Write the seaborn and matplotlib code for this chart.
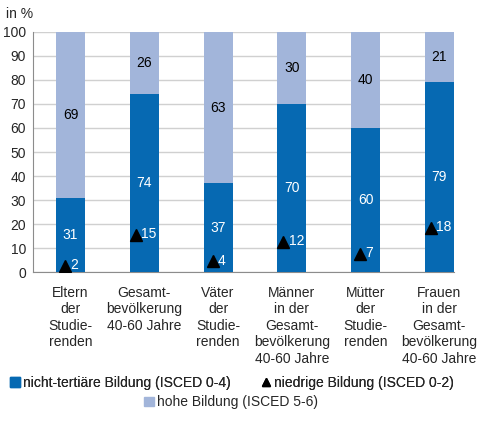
import pandas as pd
import matplotlib.pyplot as plt
import seaborn as sns
from matplotlib.lines import Line2D
from matplotlib.patches import Patch

# data
categories = ["Eltern\nder\nStudie-\nrenden",
              "Gesamt-\nbevölkerung\n40-60 Jahre",
              "Väter\nder\nStudie-\nrenden",
              "Männer\nin der\nGesamt-\nbevölkerung\n40-60 Jahre",
              "Mütter\nder\nStudie-\nrenden",
              "Frauen\nin der\nGesamt-\nbevölkerung\n40-60 Jahre"]
nicht_tertiaer = [31, 74, 37, 70, 60, 79]
hohe = [69, 26, 63, 30, 40, 21]
niedrige = [2, 15, 4, 12, 7, 18]

dark = "#0669b2"
light = "#a2b5da"

sns.set_style("white")
plt.rcParams['font.family'] = ['Liberation Sans', 'DejaVu Sans']
plt.rcParams['font.size'] = 10

df = pd.DataFrame({"cat": categories, "low": nicht_tertiaer, "high": hohe, "niedrig": niedrige})
df["total"] = df["low"] + df["high"]

fig = plt.figure(figsize=(4.85, 4.30), dpi=100)
ax = fig.add_axes([0.068, 0.367, 0.868, 0.559])

sns.barplot(data=df, x="cat", y="total", color=light, width=0.393, saturation=1, ax=ax,
            zorder=2, linewidth=0, edgecolor="none")
sns.barplot(data=df, x="cat", y="low", color=dark, width=0.393, saturation=1, ax=ax,
            zorder=3, linewidth=0, edgecolor="none")

for i, row in df.iterrows():
    ax.text(i, row["low"] + row["high"] / 2, str(row["high"]), ha="center", va="center",
            color="black", fontsize=10, zorder=5)
    ax.text(i, row["low"] / 2, str(row["low"]), ha="center", va="center",
            color="white", fontsize=10, zorder=5)
    if row["niedrig"] < 10:
        tri_x, txt_x = i - 0.075, i + 0.0
    else:
        tri_x, txt_x = i - 0.115, i - 0.04
    ax.plot(tri_x, row["niedrig"] + 0.5, marker="^", color="black", markersize=8,
            linestyle="none", zorder=6)
    ax.text(txt_x, row["niedrig"] + 0.8, str(row["niedrig"]), ha="left", va="center",
            color="white", fontsize=10, zorder=6)

ax.set_ylim(0, 100)
ax.set_xlim(-0.508, 5.197)
ax.set_yticks(range(0, 101, 10))
ax.yaxis.grid(True, color="#d0d0d0", linewidth=1, zorder=0)
ax.set_axisbelow(True)
ax.set_xlabel("")
ax.set_ylabel("")
for s in ["top", "right"]:
    ax.spines[s].set_visible(False)
for s in ["left", "bottom"]:
    ax.spines[s].set_color("#8c8c8c")
ax.tick_params(axis="y", length=0, pad=5, labelsize=10)
ax.tick_params(axis="x", length=0, pad=10, labelsize=10)
for lab in ax.get_xticklabels():
    lab.set_multialignment("center")
    lab.set_linespacing(1.22)

fig.text(0.012, 0.968, "in %", fontsize=10, ha="left", va="center")

h1 = [Patch(color=dark, label="nicht-tertiäre Bildung (ISCED 0-4)"),
      Line2D([], [], marker="^", color="black", linestyle="none", markersize=6,
             label="niedrige Bildung (ISCED 0-2)")]
leg1 = fig.legend(handles=h1, loc="center", bbox_to_anchor=(0.478, 0.109), ncol=2, frameon=False,
                  fontsize=10, handlelength=0.7, handleheight=0.7, handletextpad=0.2,
                  columnspacing=2.2)
h2 = [Patch(color=light, label="hohe Bildung (ISCED 5-6)")]
fig.legend(handles=h2, loc="center", bbox_to_anchor=(0.476, 0.064), frameon=False,
           fontsize=10, handlelength=0.7, handleheight=0.7, handletextpad=0.2)
fig.add_artist(leg1)

fig.savefig("out.png", dpi=100)
